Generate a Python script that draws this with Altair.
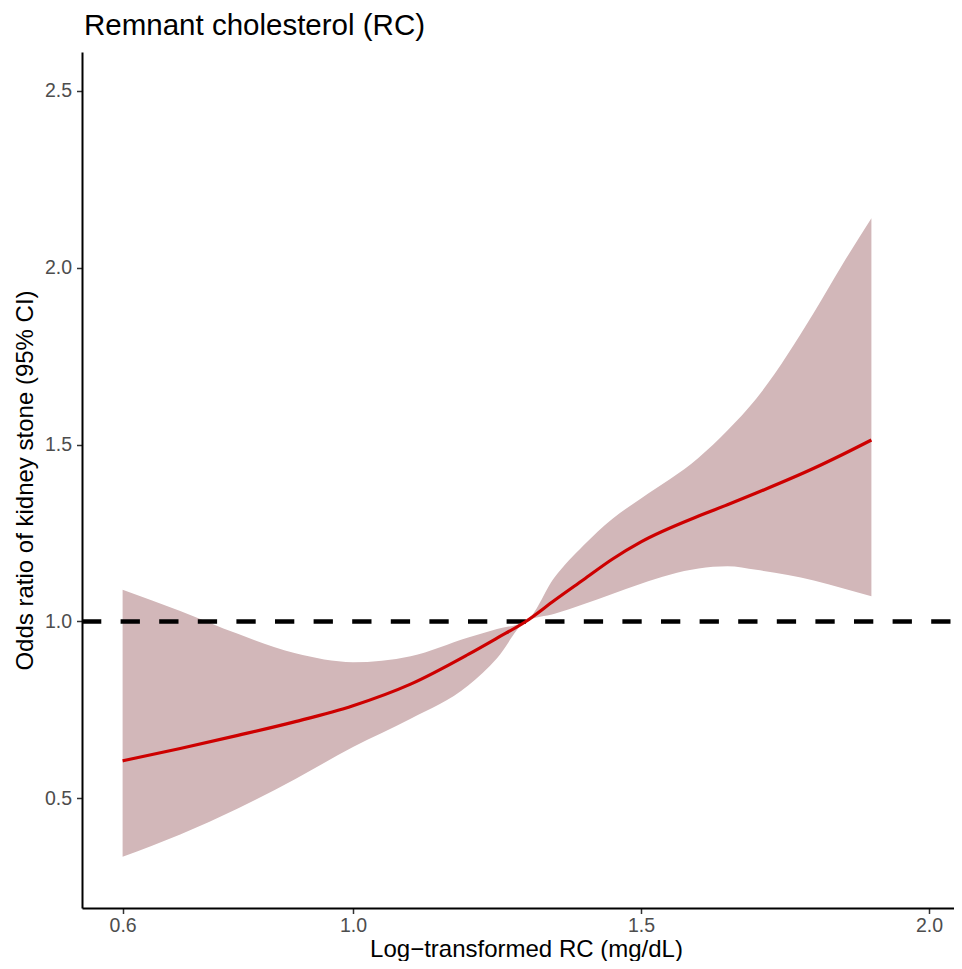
import altair as alt
import pandas as pd

# Data
x_vals = [0.6, 0.7, 0.8, 0.9, 1.0, 1.1, 1.2, 1.25, 1.3, 1.35, 1.4, 1.45, 1.5, 1.6, 1.65, 1.7, 1.8, 1.85, 1.9]
or_est = [0.606, 0.641, 0.678, 0.717, 0.762, 0.823, 0.907, 0.953, 1.0, 1.06, 1.118, 1.176, 1.225, 1.298, 1.33, 1.363, 1.433, 1.472, 1.513]
or_lo = [0.335, 0.398, 0.471, 0.555, 0.645, 0.725, 0.819, 0.896, 1.0, 1.022, 1.049, 1.078, 1.107, 1.150, 1.156, 1.146, 1.116, 1.094, 1.071]
or_hi = [1.09, 1.03, 0.965, 0.91, 0.885, 0.902, 0.955, 0.979, 1.0, 1.125, 1.215, 1.29, 1.348, 1.463, 1.54, 1.63, 1.873, 2.01, 2.14]

x_ticks = [0.6, 1.0, 1.5, 2.0]
y_ticks = [0.5, 1.0, 1.5, 2.0, 2.5]
ref_value = 1.0

df = pd.DataFrame({"x": x_vals, "est": or_est, "lo": or_lo, "hi": or_hi})

W = 872
H = 856
FONT = "Liberation Sans"

xscale = alt.Scale(domain=[0.5295, 2.0434], nice=False, zero=False)
yscale = alt.Scale(domain=[0.19, 2.61], nice=False, zero=False)

xaxis = alt.Axis(
    values=x_ticks, format=".1f", grid=False,
    title="Log\u2212transformed RC (mg/dL)",
    titleFont=FONT, titleFontSize=24, titleFontWeight="normal", titleColor="black",
    titleX=444, titleY=48, titleAlign="center", titleBaseline="alphabetic",
    labelFont=FONT, labelFontSize=19.5, labelColor="#4D4D4D", labelPadding=3,
    domainColor="black", domainWidth=2, tickColor="#333333", tickWidth=1.5, tickSize=5.5,
)
yaxis = alt.Axis(
    values=y_ticks, format=".1f", grid=False,
    title="Odds ratio of kidney stone (95% CI)",
    titleFont=FONT, titleFontSize=24, titleFontWeight="normal", titleColor="black",
    titleX=-57, titleY=H / 2, titleAlign="center", titleBaseline="middle", titleAngle=-90,
    labelFont=FONT, labelFontSize=19.5, labelColor="#4D4D4D", labelPadding=5,
    domainColor="black", domainWidth=2, tickColor="#333333", tickWidth=1.5, tickSize=5.5,
)

band = alt.Chart(df).mark_area(color="#D2B7B9", opacity=1, interpolate="monotone").encode(
    x=alt.X("x:Q", scale=xscale, axis=xaxis),
    y=alt.Y("lo:Q", scale=yscale, axis=yaxis),
    y2="hi:Q",
)

line = alt.Chart(df).mark_line(color="#CD0000", strokeWidth=3.2, interpolate="monotone").encode(
    x=alt.X("x:Q", scale=xscale),
    y=alt.Y("est:Q", scale=yscale),
)

ref = alt.Chart(pd.DataFrame({"r": [ref_value]})).mark_rule(
    color="black", strokeWidth=4.5, strokeDash=[19.3, 19.3]
).encode(
    y=alt.Y("r:Q", scale=yscale),
    x=alt.value(0),
    x2=alt.value(W),
)

chart = alt.layer(band, ref, line).properties(
    width=W,
    height=H,
    title=alt.Title(
        "Remnant cholesterol (RC)", anchor="start", frame="group",
        font=FONT, fontSize=29.5, fontWeight="normal", color="black",
        offset=11, dx=2,
    ),
    autosize=alt.AutoSizeParams(type="none"),
    padding={"left": 74, "top": 44, "right": 0, "bottom": 53},
).configure(background="white", view=alt.ViewConfig(stroke=None))

chart.save("out.html", embed_options={"renderer": "svg", "actions": False})
